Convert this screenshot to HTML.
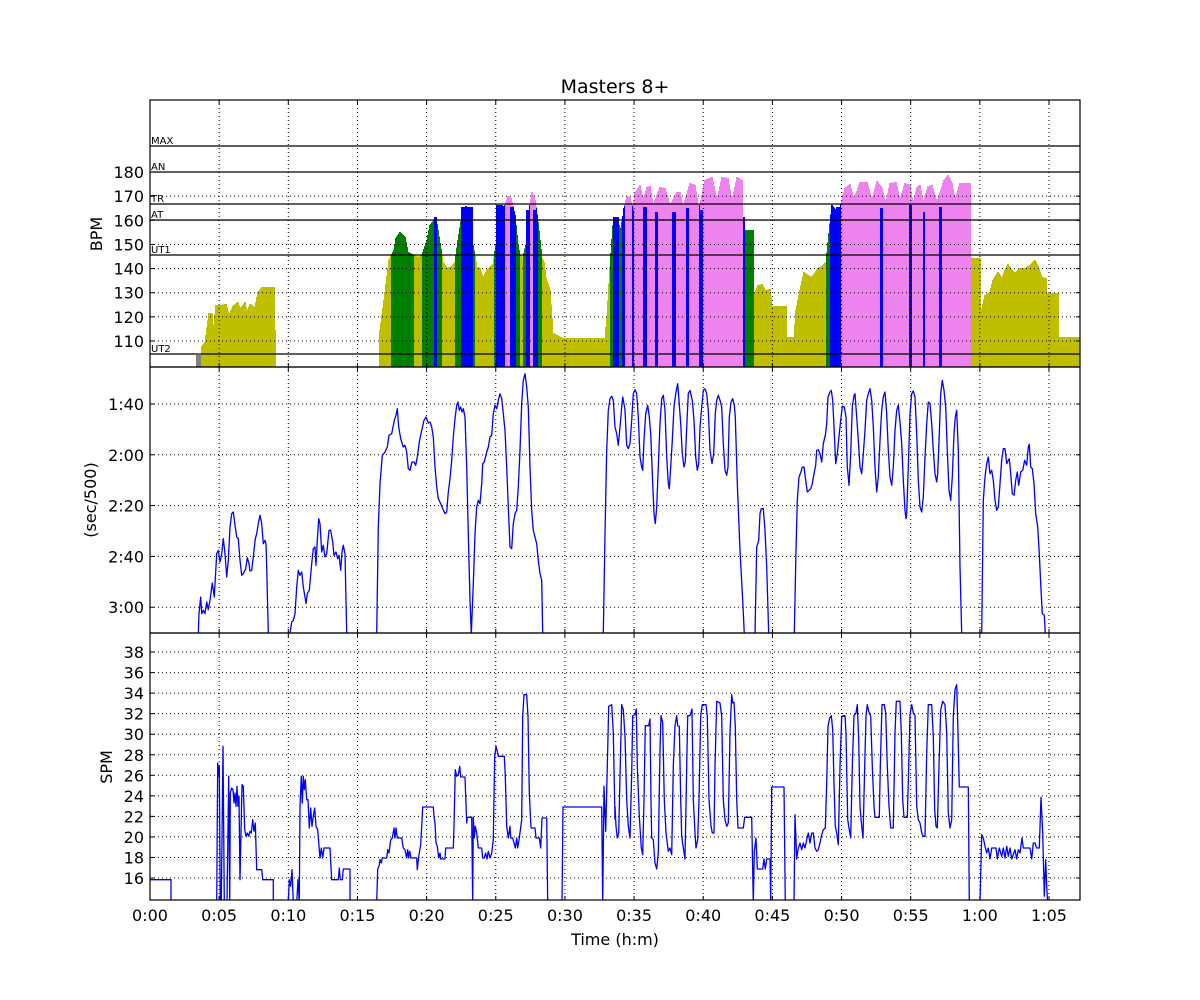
<!DOCTYPE html>
<html><head><meta charset="utf-8"><style>
html,body{margin:0;padding:0;background:#fff}
svg{display:block}
text{font-family:"DejaVu Sans","Liberation Sans",sans-serif;fill:#000}
</style></head><body>
<svg id="s" width="1200" height="1000" xmlns="http://www.w3.org/2000/svg"></svg>
<script>
const S=document.getElementById('s');let H='';
const L=150,R=1080;
const P=[[100,367],[367,633],[633,900]];
H+='<defs>';P.forEach((p,i)=>{H+=`<clipPath id="c${i}"><rect x="${L}" y="${p[0]}" width="${R-L}" height="${p[1]-p[0]}"/></clipPath>`});H+='</defs>';
const env=[[196,367],[196,355],[201,355],[201,347],[205,342],[209,313],[212,313],[213,333],[216,305],[220,305],[226,304],[229,315],[233,306],[238,302],[240,309],[245,302],[247,312],[250,304],[255,307],[258,292],[262,287],[274,287],[275,330],[276,367],
[379,367],[380,330],[384,300],[389,260],[394,250],[396,238],[400,232],[405,237],[408,252],[418,257],[422,255],[427,240],[430,225],[436,218],[438,230],[443,262],[447,268],[452,266],[455,262],[458,240],[462,215],[466,206],[471,210],[473,245],[477,267],[480,268],[483,278],[487,270],[493,264],[496,244],[500,210],[505,205],[508,196],[511,198],[515,215],[518,245],[520,255],[523,257],[527,240],[530,205],[532,192],[535,200],[538,222],[542,258],[544,262],[546,278],[550,290],[553,333],[563,338],[604,338],[604,367],
[605,367],[605,337],[607,317],[610,267],[613,225],[618,217],[620,233],[624,210],[627,196],[630,197],[633,210],[635,193],[640,185],[643,200],[647,187],[650,186],[653,205],[660,187],[665,188],[670,205],[677,192],[680,192],[683,207],[690,183],[695,185],[699,210],[705,180],[712,177],[717,200],[722,177],[728,178],[732,201],[737,177],[742,180],[743,217],[745,230],[753,230],[754,295],[758,285],[762,284],[765,290],[770,289],[772,306],[786,306],[787,337],[794,337],[796,310],[800,290],[804,272],[808,275],[812,277],[818,268],[822,266],[826,262],[829,233],[832,205],[836,210],[840,208],[845,188],[850,184],[854,200],[860,182],[867,182],[872,200],[877,181],[882,188],[886,203],[890,183],[896,182],[900,200],[905,183],[910,185],[913,204],[917,187],[920,185],[923,203],[928,186],[932,185],[937,202],[944,180],[948,175],[952,183],[955,200],[960,183],[970,183],[970,258],[980,258],[981,313],[985,295],[990,292],[993,280],[998,272],[1002,278],[1005,270],[1008,264],[1012,270],[1015,273],[1020,268],[1025,268],[1030,265],[1035,260],[1038,266],[1042,277],[1046,278],[1047,293],[1058,293],[1059,337],[1080,337],[1080,367]];
function ey(x){for(let i=0;i<env.length-1;i++){const a=env[i],b=env[i+1];if(x>=a[0]&&x<=b[0]){if(b[0]===a[0])return Math.min(a[1],b[1]);return a[1]+(b[1]-a[1])*(x-a[0])/(b[0]-a[0]);}}return 367;}
H+='<g clip-path="url(#c0)" shape-rendering="crispEdges">';
for(let x=196;x<1080;x++){const y=Math.min(ey(x),ey(x+1));if(y>=366)continue;let c;
 if(x<201)c='#808080';else if(y<204)c='#ee82ee';else if(y<220)c='#0000ff';else if(y<255)c='#008000';else c='#bfbf00';
 H+=`<rect x="${x}" y="${y.toFixed(1)}" width="1" height="${(367-y).toFixed(1)}" fill="${c}"/>`;}
const bb=[[434,437,217],[461,473,207],[496,503,205],[510,513,207],[526,529,210],[533,536,210],[613,617,217],[623,625,208],[632,634,210],[643,647,207],[655,658,212],[672,676,212],[686,689,208],[700,703,210],[743,745,217],[831,833,207],[836,840,207],[880,883,208],[909,912,205],[923,925,212],[939,942,207]];
bb.forEach(b=>{H+=`<rect x="${b[0]}" y="${b[2]}" width="${b[1]-b[0]}" height="${367-b[2]}" fill="#0000ff"/>`});
H+='</g>';
[[146,'MAX'],[172,'AN'],[204,'TR'],[220,'AT'],[255,'UT1'],[354,'UT2']].forEach(z=>{H+=`<line x1="${L}" x2="${R}" y1="${z[0]}" y2="${z[0]}" stroke="#000" stroke-width="1.2"/><text x="151" y="${z[0]-2}" font-size="10">${z[1]}</text>`});
const xt=[];for(let i=0;i<=13;i++)xt.push(150+i*69.154);
function grid(p,ys){let g='';xt.forEach(x=>{g+=`<line x1="${x}" x2="${x}" y1="${p[0]}" y2="${p[1]}" stroke="#000" stroke-width="1" stroke-dasharray="1,3"/>`});
 ys.forEach(y=>{g+=`<line x1="${L}" x2="${R}" y1="${y}" y2="${y}" stroke="#000" stroke-width="1" stroke-dasharray="1,3"/>`;g+=`<line x1="${L}" x2="${L+4}" y1="${y}" y2="${y}" stroke="#000"/><line x1="${R-4}" x2="${R}" y1="${y}" y2="${y}" stroke="#000"/>`});
 xt.forEach(x=>{g+=`<line x1="${x}" x2="${x}" y1="${p[1]-4}" y2="${p[1]}" stroke="#000"/><line x1="${x}" x2="${x}" y1="${p[0]}" y2="${p[0]+4}" stroke="#000"/>`});return g;}
const y1=[],y2=[],y3=[];
for(let v=110;v<=180;v+=10){const y=341-(v-110)*2.414;y1.push(y);H+=`<text x="144" y="${y+6}" font-size="16" text-anchor="end">${v}</text>`;}
['1:40','2:00','2:20','2:40','3:00'].forEach((t,i)=>{const y=404+i*50.8;y2.push(y);H+=`<text x="144" y="${y+6}" font-size="16" text-anchor="end">${t}</text>`;});
for(let v=16;v<=38;v+=2){const y=878-(v-16)*10.27;y3.push(y);H+=`<text x="144" y="${y+6}" font-size="16" text-anchor="end">${v}</text>`;}
H+=grid(P[0],y1)+grid(P[1],y2)+grid(P[2],y3);
function pl(pts,ox,oy,ci){return `<polyline clip-path="url(#c${ci})" fill="none" stroke="#0000ff" stroke-width="1.3" stroke-linejoin="round" points="${pts.map(p=>(ox+p[0]/3).toFixed(1)+','+(oy+p[1]/3).toFixed(1)).join(' ')}"/>`;}
const A=[
[[145,800],[147,740],[152,690],[155,740],[160,730],[165,740],[170,705],[175,728],[180,700],[187,648],[193,690],[200,560],[205,550],[210,585],[215,560],[220,515],[225,560],[230,630],[235,580],[240,480],[245,440],[250,435],[255,475],[260,510],[265,515],[270,580],[275,625],[280,620],[287,605],[292,572],[297,590],[300,612],[305,610],[310,570],[316,515],[320,500],[325,470],[330,445],[335,470],[340,530],[345,520],[348,530],[350,600],[355,800]],
[[420,800],[425,765],[430,760],[435,740],[440,660],[445,610],[450,625],[455,615],[460,660],[465,690],[468,710],[472,680],[478,670],[485,590],[490,545],[495,540],[498,595],[502,520],[506,455],[510,470],[515,555],[520,535],[525,570],[530,560],[537,490],[542,490],[548,525],[552,565],[558,555],[563,575],[567,565],[572,610],[576,555],[580,535],[585,560],[590,800]],
[[680,800],[685,480],[690,350],[697,265],[705,255],[712,240],[717,205],[725,200],[733,160],[738,145],[742,125],[746,180],[752,215],[760,240],[765,235],[770,255],[775,305],[780,310],[786,285],[792,285],[797,295],[802,270],[808,225],[815,190],[822,160],[828,150],[835,168],[840,165],[845,180],[850,210],[855,300],[860,360],[865,395],[872,410],[878,425],[885,440],[890,435],[895,375],[900,335],[905,280],[910,210],[915,155],[920,115],[924,105],[928,130],[932,120],[936,135],[940,125],[945,150],[950,300],[955,500],[960,700],[964,800],[970,650],[975,500],[980,420],[985,400],[990,410],[995,350],[998,290],[1003,285],[1010,255],[1015,240],[1020,210],[1025,205],[1030,140],[1035,115],[1040,125],[1045,100],[1050,80],[1055,95],[1060,140],[1065,190],[1070,300],[1075,420],[1080,540],[1085,545],[1090,470],[1095,440],[1100,430],[1105,360],[1110,250],[1115,110],[1120,40],[1125,20],[1130,60],[1135,120],[1140,300],[1145,430],[1150,490],[1155,510],[1160,530],[1165,580],[1170,620],[1175,640],[1178,800]]];
A.forEach(a=>H+=pl(a,150,367,1));
const B=[
[[10,800],[15,500],[20,250],[25,130],[30,95],[35,88],[40,100],[45,180],[50,200],[55,235],[60,180],[65,120],[68,90],[72,110],[75,130],[80,235],[85,245],[90,230],[95,160],[100,80],[105,68],[110,80],[115,150],[120,270],[125,300],[128,310],[132,220],[137,140],[143,115],[148,150],[152,200],[157,320],[162,440],[166,470],[170,420],[175,300],[180,170],[185,95],[190,85],[195,130],[200,270],[205,350],[208,365],[212,300],[217,220],[222,120],[227,80],[233,50],[237,100],[242,170],[247,260],[252,300],[256,285],[260,180],[265,80],[270,70],[277,100],[282,160],[287,270],[292,310],[296,290],[300,180],[305,120],[310,70],[315,65],[320,80],[325,130],[330,250],[336,290],[341,260],[346,140],[350,100],[355,85],[360,100],[365,120],[370,230],[375,310],[380,325],[384,300],[388,150],[393,105],[398,95],[403,115],[406,150],[412,350],[420,550],[428,700],[433,800]],
[[465,800],[470,540],[476,520],[480,440],[484,425],[490,425],[495,490],[500,600],[506,800]],
[[583,800],[588,550],[592,400],[597,330],[603,315],[607,300],[612,300],[617,340],[622,375],[627,370],[632,365],[637,350],[642,320],[647,295],[650,250],[655,248],[660,260],[665,285],[670,230],[676,205],[680,170],[684,90],[690,75],[694,70],[698,100],[702,180],[707,290],[712,260],[718,200],[722,160],[727,118],[733,120],[738,150],[742,300],[747,355],[752,260],[757,120],[762,85],[765,80],[770,150],[775,220],[780,300],[785,320],[790,260],[795,190],[800,100],[805,80],[810,65],[815,100],[820,180],[825,300],[830,375],[835,330],[840,220],[845,130],[850,90],[855,75],[860,140],[865,250],[870,330],[875,355],[880,300],[885,190],[890,130],[895,115],[900,165],[905,230],[910,340],[915,430],[918,455],[920,440],[925,300],[930,140],[935,80],[940,72],[945,90],[950,200],[955,340],[960,420],[965,435],[970,390],[975,270],[980,170],[985,105],[990,110],[995,170],[1000,250],[1005,320],[1010,345],[1013,320],[1018,200],[1022,80],[1027,40],[1032,70],[1037,120],[1042,250],[1047,370],[1052,400],[1057,330],[1062,200],[1066,150],[1070,130],[1075,250],[1080,600],[1085,800]],
[[1145,800],[1150,400],[1155,330],[1160,290],[1165,270],[1170,320],[1175,310],[1180,340],[1185,400],[1190,430],[1195,420],[1200,350],[1205,280],[1210,245],[1215,245],[1220,290],[1225,280],[1228,275],[1232,320],[1237,380],[1242,385],[1247,340],[1252,315],[1256,355],[1262,315],[1268,310],[1274,280],[1280,295],[1285,240],[1288,232],[1292,300],[1297,305],[1302,350],[1307,440],[1313,480],[1318,560],[1322,650],[1327,740],[1333,745],[1336,800]]];
B.forEach(a=>H+=pl(a,600,367,1));
const C=[
[[0,740],[63,740],[63,810]],
[[200,810],[203,390],[206,430],[208,400],[211,810],[214,810],[219,340],[223,810],[231,810],[236,430],[239,810],[241,480],[245,465],[249,470],[252,510],[255,480],[258,520],[261,460],[264,520],[267,490],[270,740],[273,600],[276,455],[280,460],[284,590],[288,610],[292,600],[296,610],[300,595],[304,600],[308,560],[312,595],[316,570],[320,710],[335,710],[338,740],[370,740],[370,810]],
[[415,810],[418,740],[422,760],[426,710],[430,810],[440,810],[444,740],[448,810],[450,520],[454,430],[457,510],[460,430],[463,470],[466,440],[470,500],[474,500],[478,585],[482,525],[486,580],[490,550],[494,525],[498,580],[503,590],[507,640],[510,675],[514,645],[518,675],[522,645],[540,645],[545,740],[565,740],[568,705],[571,740],[577,740],[580,708],[600,708],[600,810]],
[[680,810],[683,708],[687,700],[690,680],[694,690],[697,675],[710,675],[713,650],[717,660],[722,620],[727,615],[732,585],[735,615],[738,585],[742,615],[755,615],[760,645],[765,650],[770,675],[773,650],[776,675],[779,655],[783,675],[800,675],[802,710],[806,670],[812,635],[818,522],[850,522],[852,550],[855,570],[858,630],[862,640],[866,675],[870,660],[872,678],[885,678],[887,645],[910,645],[912,580],[916,410],[920,430],[925,425],[929,400],[932,432],[945,432],[950,570],[952,553],[965,553],[968,810],[970,553],[973,615],[976,580],[980,600],[985,645],[995,645],[998,675],[1003,675],[1007,660],[1011,678],[1015,655],[1020,675],[1025,660],[1030,620],[1034,370],[1038,340],[1042,355],[1045,370],[1063,370],[1066,430],[1070,580],[1075,615],[1080,580],[1082,615],[1088,615],[1096,645],[1100,615],[1103,645],[1108,615],[1115,560],[1118,250],[1122,185],[1130,185],[1134,250],[1138,480],[1143,585],[1155,585],[1158,615],[1168,615],[1172,645],[1176,555],[1190,555],[1193,810]],
[[1236,810],[1239,522],[1355,522],[1358,810],[1362,460],[1367,595],[1372,400],[1376,220],[1385,215],[1390,300],[1395,560]]];
C.forEach(a=>H+=pl(a,150,633,2));
const D=[[45,520],[48,580],[52,615],[56,600],[60,430],[65,215],[70,230],[75,310],[80,500],[85,580],[90,615],[95,420],[98,248],[105,245],[109,228],[112,400],[118,550],[124,645],[128,665],[132,500],[136,278],[146,278],[150,258],[153,500],[155,615],[160,620],[165,690],[170,708],[175,660],[180,350],[183,248],[188,270],[193,500],[198,600],[205,655],[210,645],[215,665],[220,400],[225,278],[230,248],[233,278],[238,280],[242,500],[245,610],[250,645],[255,678],[260,400],[263,248],[270,248],[276,228],[280,500],[285,600],[288,645],[293,620],[297,500],[302,248],[307,215],[318,215],[322,250],[327,500],[333,580],[337,600],[342,600],[345,400],[350,205],[360,210],[365,250],[370,500],[375,560],[380,580],[385,570],[390,300],[395,185],[398,210],[402,208],[406,280],[410,500],[414,585],[430,585],[434,553],[455,553],[460,810],[463,655],[468,615],[472,708],[488,708],[492,678],[496,708],[500,678],[510,678],[512,810],[515,462],[552,462],[556,810],[582,810],[585,545],[590,678],[594,650],[600,630],[605,650],[610,630],[615,645],[620,620],[625,600],[630,630],[635,600],[640,600],[645,645],[650,655],[655,650],[660,630],[665,605],[670,590],[676,585],[680,450],[684,280],[689,255],[694,248],[698,290],[702,450],[706,580],[710,600],[715,635],[720,400],[725,250],[735,248],[738,300],[743,560],[747,585],[752,615],[757,400],[762,248],[768,240],[772,215],[776,320],[780,520],[785,580],[789,615],[794,400],[798,248],[802,215],[806,235],[812,250],[817,400],[822,520],[825,553],[838,553],[841,400],[846,215],[853,215],[857,240],[862,400],[867,520],[872,585],[880,585],[885,300],[889,205],[900,205],[904,300],[908,500],[912,553],[922,553],[926,400],[930,245],[935,215],[940,240],[945,248],[950,520],[955,560],[960,570],[965,600],[970,610],[975,610],[980,360],[985,215],[995,215],[1000,310],[1004,530],[1008,580],[1012,585],[1017,400],[1022,230],[1028,205],[1035,215],[1040,300],[1045,540],[1050,585],[1055,560],[1060,250],[1065,170],[1070,155],[1074,300],[1078,462],[1105,462],[1108,810]];
H+=pl(D,600,633,2);
H+=pl([[1140,810],[1145,605],[1150,615],[1155,640],[1160,660],[1165,645],[1170,678],[1175,645],[1188,645],[1192,678],[1198,645],[1205,670],[1210,645],[1215,675],[1220,640],[1225,670],[1230,645],[1235,678],[1245,650],[1250,678],[1255,650],[1260,660],[1266,615],[1270,645],[1290,645],[1295,678],[1300,630],[1305,630],[1310,645],[1318,645],[1323,493],[1328,600],[1333,790],[1337,680],[1340,760],[1343,810]],600,633,2);
P.forEach(p=>{H+=`<rect x="${L}" y="${p[0]}" width="${R-L}" height="${p[1]-p[0]}" fill="none" stroke="#000" stroke-width="1.2"/>`});
const xl=['0:00','0:05','0:10','0:15','0:20','0:25','0:30','0:35','0:40','0:45','0:50','0:55','1:00','1:05'];
xl.forEach((t,i)=>{H+=`<text x="${xt[i]}" y="921" font-size="16" text-anchor="middle">${t}</text>`});
H+=`<text x="615" y="945" font-size="16" text-anchor="middle">Time (h:m)</text>`;
H+=`<text x="615" y="93" font-size="19" text-anchor="middle">Masters 8+</text>`;
H+=`<text transform="translate(102,234) rotate(-90)" font-size="16" text-anchor="middle">BPM</text>`;
H+=`<text transform="translate(96,500) rotate(-90)" font-size="16" text-anchor="middle">(sec/500)</text>`;
H+=`<text transform="translate(112,767) rotate(-90)" font-size="16" text-anchor="middle">SPM</text>`;
S.innerHTML=H;
</script>
</body></html>
